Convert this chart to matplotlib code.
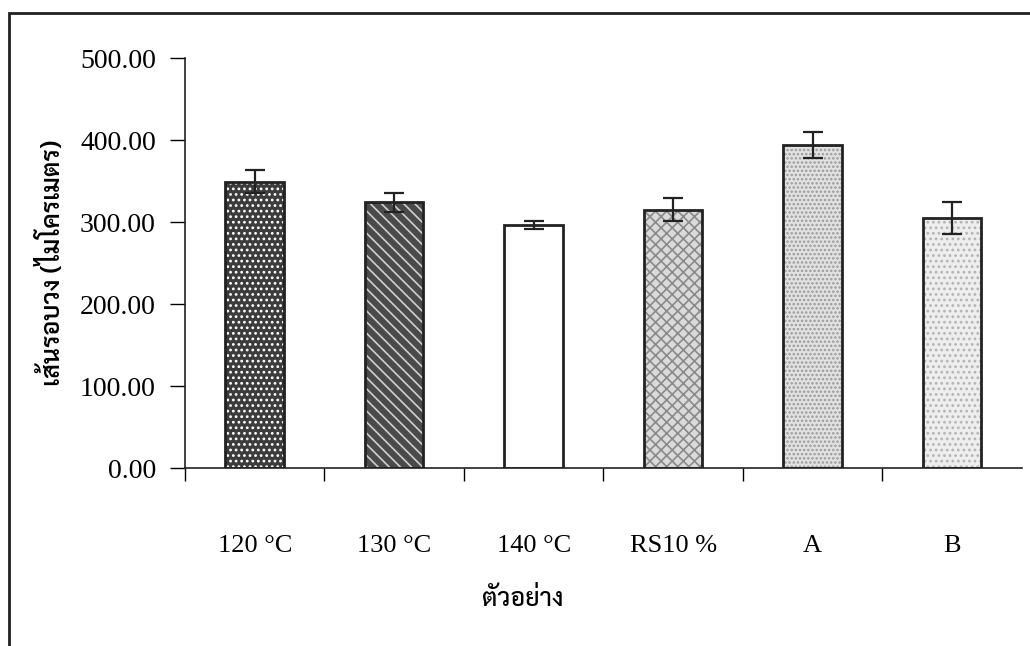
import matplotlib
matplotlib.use('Agg')
import matplotlib.pyplot as plt
from matplotlib.patches import Rectangle

# data
samples = ['120 °C', '130 °C', '140 °C', 'RS10 %', 'A', 'B']
means = [349.0, 324.0, 296.0, 315.0, 394.0, 305.0]
errors = [14.0, 12.0, 5.0, 14.0, 16.0, 19.0]
yticks = [0, 100, 200, 300, 400, 500]

# fill / hatch per bar, roughly like the scanned patterns
faces = ['#3c3c3c', '#4a4a4a', 'white', '#dadada', '#e2e2e2', '#eeeeee']
hatches = ['...', '\\\\\\', '', 'xxx', '....', '...']
hatch_cols = ['white', '#d0d0d0', 'white', '#8a8a8a', '#9a9a9a', '#b4b4b4']

plt.rcParams['font.family'] = ['Liberation Serif', 'Sarabun', 'DejaVu Sans']
plt.rcParams['hatch.linewidth'] = 1.2
thai = ['Sarabun', 'Liberation Serif']


def main():
    fig = plt.figure(figsize=(10.30, 6.46), dpi=100)
    ax = fig.add_axes([0.1796, 0.2755, 0.8124, 0.6345])

    x = list(range(len(samples)))

    ####### bars: hatch first, then a black outline on top #######
    for i in x:
        ax.bar(i, means[i], width=0.42, color=faces[i], hatch=hatches[i],
               edgecolor=hatch_cols[i], linewidth=0, zorder=2)
    ax.bar(x, means, width=0.42, fill=False, edgecolor='#222222',
           linewidth=2, zorder=3)
    ax.errorbar(x, means, yerr=errors, fmt='none', ecolor='#222222',
                elinewidth=1.6, capsize=7, capthick=1.6, zorder=4)

    ####### axes #######
    ax.set_xlim(-0.5, len(samples) - 0.5)
    ax.set_ylim(0, 500)
    ax.set_yticks(yticks)
    ax.set_yticklabels(['%.2f' % v for v in yticks], fontsize=20)
    ax.set_xticks([i + 0.5 for i in x[:-1]] + [-0.5])
    ax.set_xticklabels([])
    ax.set_xticks(x, minor=True)
    ax.set_xticklabels(samples, minor=True, fontsize=19)
    ax.tick_params(axis='x', which='minor', length=0, pad=48)
    ax.tick_params(axis='x', which='major', length=9, width=1, direction='out')
    ax.tick_params(axis='y', length=11, width=1, pad=10)

    for s in ['top', 'right']:
        ax.spines[s].set_visible(False)
    for s in ['left', 'bottom']:
        ax.spines[s].set_linewidth(1.2)
        ax.spines[s].set_color('#222222')

    ax.set_ylabel('เส้นรอบวง (ไมโครเมตร)', fontsize=18, family=thai,
                  fontweight='semibold', labelpad=10)
    fig.text(0.507, 0.072, 'ตัวอย่าง', fontsize=18, family=thai,
             fontweight='medium', ha='center', va='center')

    ####### frame of the scanned page #######
    fig.patches.append(Rectangle((0.009, -0.05), 1.05, 1.03, transform=fig.transFigure,
                                 fill=False, edgecolor='#222222', linewidth=2))

    fig.savefig('out.png', dpi=100)


if __name__ == '__main__':
    main()
